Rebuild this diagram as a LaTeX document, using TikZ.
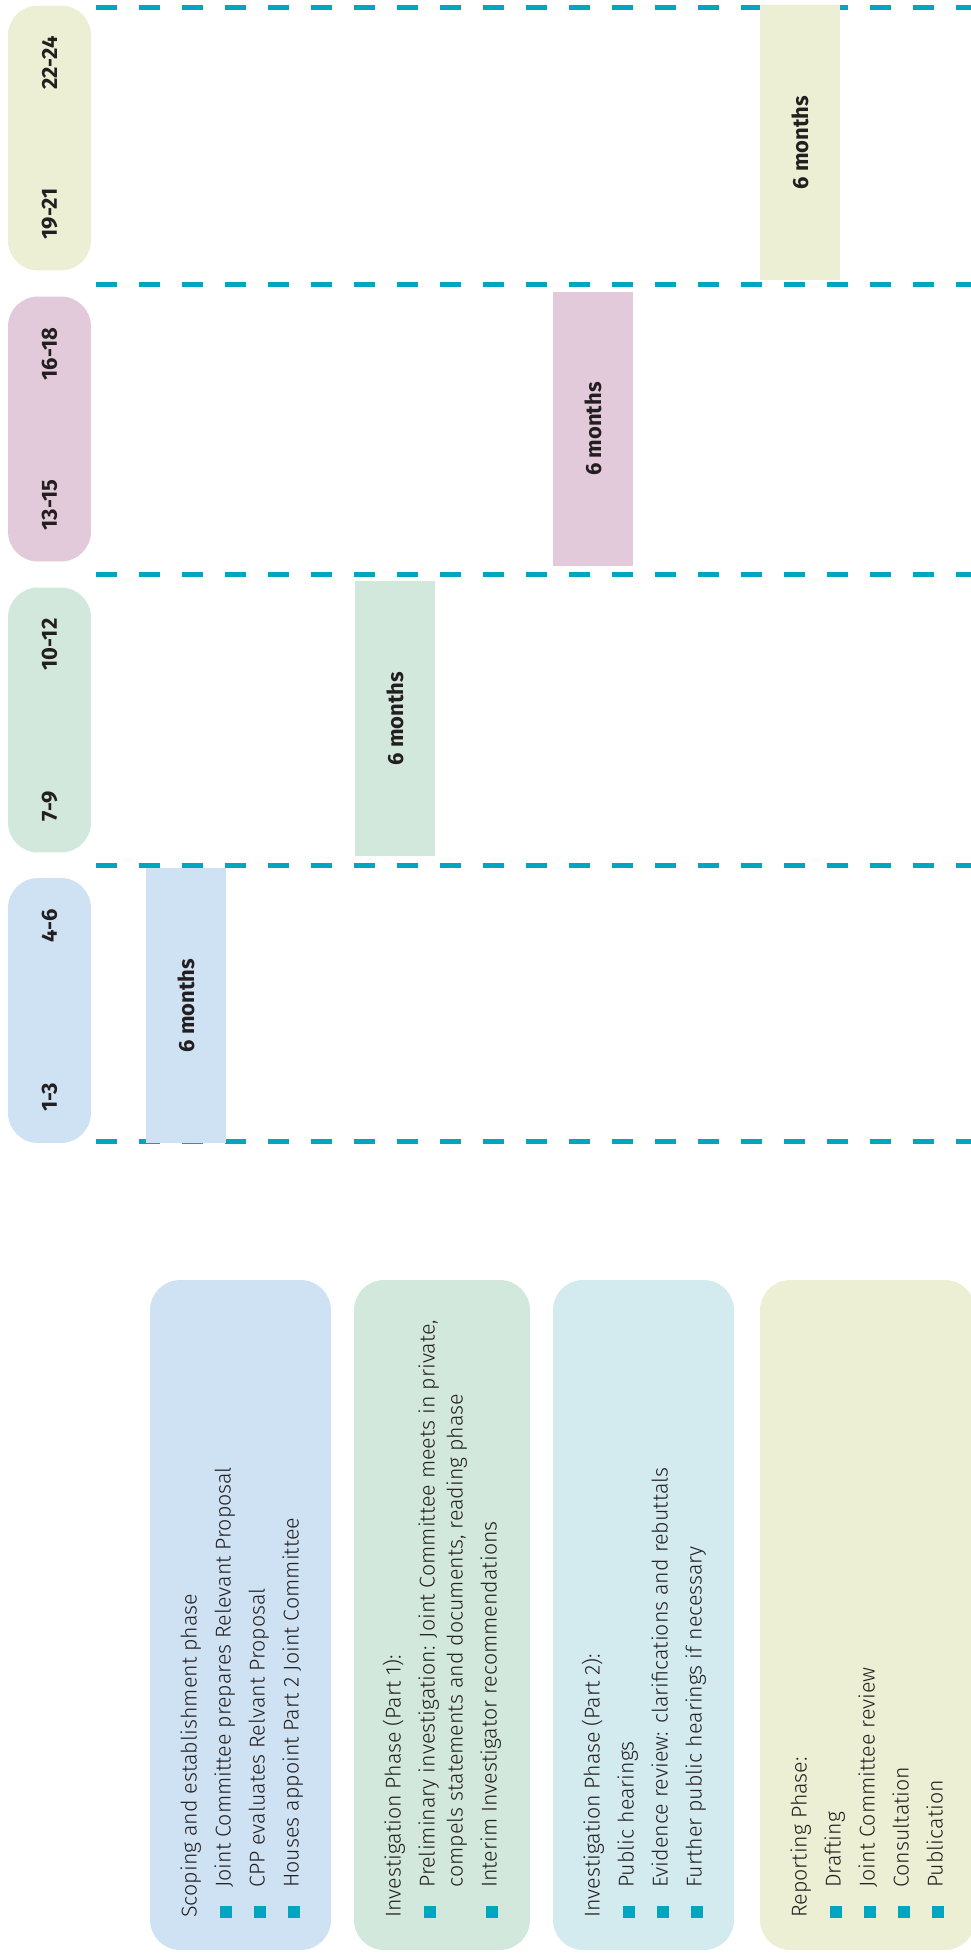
\documentclass[tikz,border=0pt]{standalone}
\usepackage{fontspec}
\setmainfont{Fira Sans}[UprightFont=* Light, BoldFont=* Bold]
\usetikzlibrary{positioning}

\definecolor{ink}{HTML}{231F20}
\definecolor{teal0}{HTML}{00A6BF}
\definecolor{phaseblue}{HTML}{CFE2F3}
\definecolor{phasegreen}{HTML}{D3E8DC}
\definecolor{phasepink}{HTML}{E2CADB}
\definecolor{phaseolive}{HTML}{ECEFD4}
\definecolor{phasecyan}{HTML}{D3EAEE}

\newcommand{\bodyfont}{\fontsize{12.2}{14}\selectfont}
\newcommand{\labelfont}{\fontsize{12.5}{14}\selectfont\bfseries}

\begin{document}
\begin{tikzpicture}[x=0.02cm, y=-0.02cm,
    pill/.style={fill=#1, rounded corners=0.6cm, rotate=90, minimum width=5.3cm, minimum height=1.66cm, inner sep=0pt},
    monthbar/.style={fill=#1, rotate=90, minimum width=5.5cm, minimum height=1.6cm, inner sep=0pt, font=\labelfont, text=ink},
    pilltxt/.style={rotate=90, inner sep=0pt, font=\labelfont, text=ink},
    phasebox/.style={fill=#1, rounded corners=0.6cm, minimum height=13.4cm, inner sep=0pt},
    linetxt/.style={rotate=90, anchor=west, inner sep=0pt, font=\bodyfont, text=ink, text height=0.72em, text depth=0.2em},
    bul/.style={fill=teal0, minimum size=0.25cm, inner sep=0pt},
    dashline/.style={draw=teal0, line width=0.1cm, dash pattern=on 0.43cm off 0.43cm}]
  \useasboundingbox (0,0) rectangle (970,1953);

  % quarter separators
  \foreach \y in {8,284,574,865,1141}
    \draw[dashline] (96,\y) -- (985,\y);

  % month pills
  \node[pill=phaseblue]  (p1) at (49.5,1010.5) {};
  \node[pill=phasegreen] (p2) at (49.5,720) {};
  \node[pill=phasepink]  (p3) at (49.5,429) {};
  \node[pill=phaseolive] (p4) at (49.5,138) {};
  \node[pilltxt, anchor=west] (p1a) at ([yshift=0.62cm]p1.west) {1-3};
  \node[pilltxt, anchor=east] (p1b) at ([yshift=-0.62cm]p1.east) {4-6};
  \node[pilltxt, anchor=west] (p2a) at ([yshift=0.62cm]p2.west) {7-9};
  \node[pilltxt, anchor=east] (p2b) at ([yshift=-0.62cm]p2.east) {10-12};
  \node[pilltxt, anchor=west] (p3a) at ([yshift=0.62cm]p3.west) {13-15};
  \node[pilltxt, anchor=east] (p3b) at ([yshift=-0.62cm]p3.east) {16-18};
  \node[pilltxt, anchor=west] (p4a) at ([yshift=0.62cm]p4.west) {19-21};
  \node[pilltxt, anchor=east] (p4b) at ([yshift=-0.62cm]p4.east) {22-24};

  % six month bars
  \node[monthbar=phaseblue]  (m1) at (186,1005.5) {6 months};
  \node[monthbar=phasegreen] (m2) at (395,718.5) {6 months};
  \node[monthbar=phasepink]  (m3) at (593,429) {6 months};
  \node[monthbar=phaseolive] (m4) at (800,142.5) {6 months};

  % phase boxes
  \node[phasebox=phaseblue,  minimum width=3.62cm] (b1) at (240.5,1615) {};
  \node[phasebox=phasegreen, minimum width=3.52cm] (b2) at (442,1615) {};
  \node[phasebox=phasecyan,  minimum width=3.62cm] (b3) at (643.5,1615) {};
  \node[phasebox=phaseolive, minimum width=4.3cm]  (b4) at (867.5,1615) {};

  % scoping
  \node[linetxt] (s0) at (192,1918) {Scoping and establishment phase};
  \foreach \t [count=\i] in {Joint Committee prepares Relevant Proposal,
      CPP evaluates Relvant Proposal, Houses appoint Part 2 Joint Committee}{
    \node[bul] (sb\i) at ({192+34*\i},1912) {};
    \node[linetxt] (s\i) at ({192+34*\i},1888) {\t};
  }

  % investigation part 1
  \node[linetxt] (q0) at (396,1918) {Investigation Phase (Part 1):};
  \node[bul] (qb1) at (430,1912) {};
  \node[linetxt] (q1) at (430,1888) {Preliminary investigation: Joint Committee meets in private,};
  \node[linetxt] (q1b) at (458,1888) {compels statements and documents, reading phase};
  \node[bul] (qb2) at (492,1912) {};
  \node[linetxt] (q2) at (492,1888) {Interim Investigator recommendations};

  % investigation part 2
  \node[linetxt] (h0) at (595,1918) {Investigation Phase (Part 2):};
  \foreach \t [count=\i] in {Public hearings,
      Evidence review: clarifications and rebuttals, Further public hearings if necessary}{
    \node[bul] (hb\i) at ({595+34*\i},1912) {};
    \node[linetxt] (h\i) at ({595+34*\i},1888) {\t};
  }

  % reporting
  \node[linetxt] (r0) at (802,1918) {Reporting Phase:};
  \foreach \t [count=\i] in {Drafting, Joint Committee review, Consultation, Publication}{
    \node[bul] (rb\i) at ({802+34*\i},1912) {};
    \node[linetxt] (r\i) at ({802+34*\i},1888) {\t};
  }
\end{tikzpicture}
\end{document}
